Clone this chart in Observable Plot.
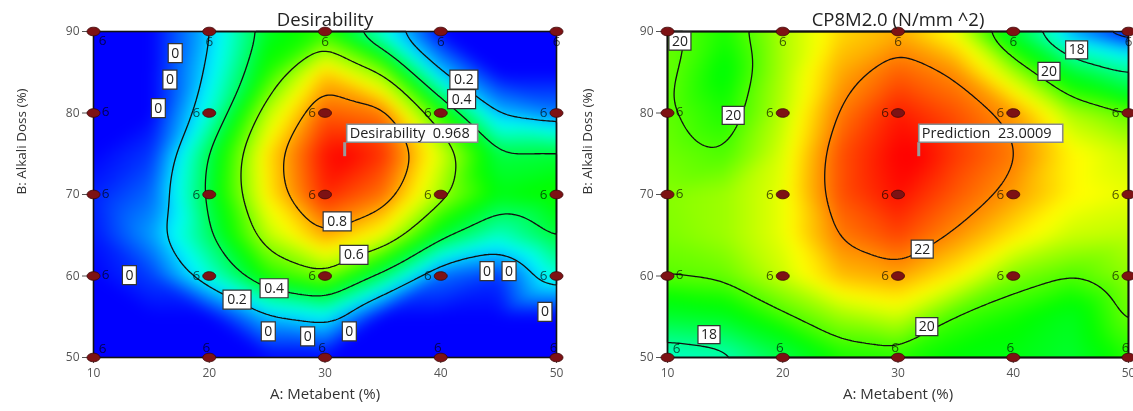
<!DOCTYPE html>
<html><head><meta charset="utf-8">
<script src="https://cdn.jsdelivr.net/npm/d3@7"></script>
<script src="https://cdn.jsdelivr.net/npm/@observablehq/plot@0.6"></script>
<style>
html,body{margin:0;padding:0;background:#fff;}
#wrap{display:flex;width:1133px;height:411px;overflow:hidden;}
#wrap svg{display:block;}
</style></head><body><div id="wrap"></div>
<script>
// ---- data ----
const gridX = [10, 15, 20, 25, 30, 35, 40, 45, 50];
const gridY = [90, 85, 80, 75, 70, 65, 60, 55, 50];

// Desirability surface (rows = gridY, cols = gridX)
const desirability = [
  [0.00, 0.00, 0.19, 0.45, 0.52, 0.26, 0.00, 0.00, 0.00],
  [0.00, 0.00, 0.22, 0.51, 0.77, 0.61, 0.19, 0.00, 0.00],
  [0.00, 0.00, 0.28, 0.66, 0.88, 0.85, 0.52, 0.18, 0.12],
  [0.00, 0.05, 0.41, 0.75, 0.95, 0.92, 0.69, 0.42, 0.43],
  [0.03, 0.10, 0.43, 0.74, 0.93, 0.86, 0.64, 0.47, 0.50],
  [0.02, 0.15, 0.39, 0.66, 0.81, 0.71, 0.44, 0.30, 0.43],
  [0.00, 0.06, 0.28, 0.51, 0.60, 0.38, 0.10, 0.05, 0.28],
  [0.00, 0.00, 0.00, 0.18, 0.24, 0.00, 0.00, 0.00, 0.00],
  [0.00, 0.00, 0.00, 0.00, 0.00, 0.00, 0.00, 0.00, 0.00]
];
// CP8M2.0 surface (N/mm^2)
const cp8m = [
  [20.15, 19.65, 20.60, 21.40, 21.70, 21.00, 18.90, 16.10, 15.20],
  [20.15, 19.40, 20.60, 21.75, 22.30, 21.95, 20.60, 19.00, 17.95],
  [20.10, 19.65, 20.70, 22.10, 22.80, 22.40, 21.85, 20.60, 20.10],
  [20.20, 19.98, 20.90, 22.40, 23.00, 22.60, 22.10, 21.20, 20.80],
  [20.35, 20.50, 21.00, 22.40, 22.90, 22.35, 21.85, 21.20, 21.00],
  [20.30, 20.50, 21.00, 22.10, 22.50, 21.95, 21.30, 20.80, 20.70],
  [20.05, 20.15, 20.80, 21.60, 21.80, 21.20, 20.30, 19.98, 20.40],
  [19.00, 19.20, 19.90, 20.50, 20.80, 19.90, 19.60, 19.20, 20.15],
  [17.30, 17.55, 18.70, 19.60, 19.70, 19.40, 19.30, 19.00, 19.70]
];

// optimum flags
const desOptimum = [31.7, 74.7, 0.968];
const desOptimumText = "Desirability \u00a00.968";
const cpOptimum = [31.8, 74.7, 23.0009];
const cpOptimumText = "Prediction \u00a023.0009";

// design points
const designX = [10, 20, 30, 40, 50];
const designY = [50, 60, 70, 80, 90];
const replicateLabel = "6";

// ticks
const xTicks = [10, 20, 30, 40, 50];
const yTicks = [50, 60, 70, 80, 90];

// contour levels
const desLevels = [0.2, 0.4, 0.6, 0.8];
const cpLevels = [16, 18, 20, 22];

// colour stops (fraction of the response range where cyan, green, yellow sit)
const desStops = [0, 0.25, 0.5, 0.75, 1];
const cpStops = [0, 0.2, 0.55, 0.76, 1];

// contour labels (data coordinates)
const desLabelX = [17.06, 16.6, 15.6, 13.1, 25.1, 28.5, 32.1, 44.0, 45.9, 49.0, 22.4, 42.0, 25.6, 41.8, 32.5, 31.05];
const desLabelY = [87.34, 84.1, 80.6, 60.1, 53.2, 52.6, 53.2, 60.6, 60.6, 55.6, 57.1, 84.1, 58.5, 81.7, 62.6, 66.7];
const desLabelText = ["0", "0", "0", "0", "0", "0", "0", "0", "0", "0", "0.2", "0.2", "0.4", "0.4", "0.6", "0.8"];
const cpLabelX = [11.08, 15.7, 13.6, 32.1, 32.5, 43.1, 45.5];
const cpLabelY = [88.83, 79.7, 52.8, 63.3, 53.8, 85.1, 87.75];
const cpLabelText = ["20", "20", "18", "22", "20", "20", "18"];

const rainbow = ["#0000ff", "#00ffff", "#00ff00", "#ffff00", "#ff0000"];
const FONT = '"Open Sans", "Segoe UI", sans-serif';

// ---- helpers ----
function toTable(grid, opt) {
  const t = [];
  gridY.forEach((y, i) => gridX.forEach((x, j) => t.push({x, y, v: grid[i][j]})));
  t.push({x: opt[0], y: opt[1], v: opt[2]});
  return t;
}
const design = [];
designY.forEach(y => designX.forEach(x => design.push({x, y, n: replicateLabel})));

const ellipseSym = {draw(ctx) {
  const rx = 6.5, ry = 4.3, k = 0.5523;
  ctx.moveTo(rx, 0);
  ctx.bezierCurveTo(rx, ry * k, rx * k, ry, 0, ry);
  ctx.bezierCurveTo(-rx * k, ry, -rx, ry * k, -rx, 0);
  ctx.bezierCurveTo(-rx, -ry * k, -rx * k, -ry, 0, -ry);
  ctx.bezierCurveTo(rx * k, -ry, rx, -ry * k, rx, 0);
  ctx.closePath();
}};
const boxSym = (w, h) => ({draw(ctx) { ctx.rect(-w / 2, -h / 2, w, h); }});
const stemSym = (len) => ({draw(ctx) { ctx.moveTo(0, 0); ctx.lineTo(0, -len); }});

function labelMarks(xs, ys, texts, boxes) {
  const idx = d3.range(texts.length);
  const marks = [];
  for (const [len, w, h] of boxes) {
    marks.push(Plot.dot(idx.filter(i => texts[i].length === len), {
      x: i => xs[i], y: i => ys[i], symbol: boxSym(w, h),
      fill: "white", stroke: "#333", strokeWidth: 1.2
    }));
  }
  marks.push(Plot.text(idx, {
    x: i => xs[i], y: i => ys[i], text: i => texts[i],
    fontSize: 14, fill: "#222", fontFamily: FONT
  }));
  return marks;
}

function sixes(filter, dx, dy) {
  return Plot.text(design, {
    filter, x: "x", y: "y", text: d => d.n, dx, dy,
    fontSize: 13.5, fill: "#5a5a5a", fontFamily: FONT,
    mixBlendMode: "multiply"
  });
}

function panel({grid, optimum, optimumText, levels, stops, labels, boxes, title, width, marginLeft, marginRight, boxW, boxDx, hideCorner}) {
  const table = toTable(grid, optimum);
  const ext = d3.extent(table, d => d.v);
  const dom = stops.map(s => ext[0] + (ext[1] - ext[0]) * s);
  const area = {x: "x", y: "y", interpolate: "barycentric", x1: 10, x2: 50, y1: 50, y2: 90, blur: 6};
  const opt = [{x: optimum[0], y: optimum[1], t: optimumText}];
  return Plot.plot({
    width, height: 411, marginTop: 31, marginBottom: 54, marginLeft, marginRight,
    style: {fontFamily: FONT, background: "white", overflow: "visible"},
    x: {domain: [10, 50]},
    y: {domain: [50, 90]},
    color: {type: "linear", domain: dom, range: rainbow, clamp: true},
    marks: [
      Plot.raster(table, {...area, fill: "v"}),
      Plot.contour(table, {...area, value: "v", thresholds: levels, fill: "none", stroke: "#111", strokeWidth: 1.3}),
      Plot.frame({stroke: "#111", strokeWidth: 1.6}),
      Plot.axisX({ticks: xTicks, tickSize: 6, tickPadding: 5, fontSize: 12, color: "#555", label: null}),
      Plot.axisY({ticks: yTicks, tickSize: 11, tickPadding: 3, fontSize: 12, color: "#555", label: null}),
      sixes(d => d.x > 10 && d.y > 50 && d.y < 90, -13, 0),
      sixes(d => d.x === 10 && d.y > 50 && d.y < 90, 12, -1),
      sixes(d => d.x === 10 && d.y === 90 && !hideCorner, 9, 9),
      sixes(d => d.x > 10 && d.y === 90, 0, 10),
      sixes(d => d.x === 10 && d.y === 50, 9, -9),
      sixes(d => d.x > 10 && d.y === 50, -3, -10),
      ...labelMarks(labels[0], labels[1], labels[2], boxes),
      Plot.dot(design, {x: "x", y: "y", symbol: ellipseSym, fill: "#7d1214", stroke: "#3a0606", strokeWidth: 0.8}),
      // optimum flag
      Plot.dot(opt, {x: "x", y: "y", symbol: stemSym(14), stroke: "#9a9a9a", strokeWidth: 3, fill: "none"}),
      Plot.dot(opt, {x: "x", y: "y", symbol: boxSym(boxW, 18), dx: boxDx + boxW / 2, dy: -23, fill: "white", stroke: "#8a8a8a", strokeWidth: 1.6}),
      Plot.text(opt, {x: "x", y: "y", text: "t", dx: boxDx + 3, dy: -23, textAnchor: "start", fontSize: 14.5, fill: "#222", fontFamily: FONT}),
      // titles
      Plot.text([title], {text: d => d, frameAnchor: "top", lineAnchor: "bottom", dy: -6, fontSize: 18.5, fill: "#222"}),
      Plot.text(["B: Alkali Doss (%)"], {text: d => d, frameAnchor: "left", dx: -(marginLeft - 21), rotate: -90, fontSize: 13.5, fill: "#333"}),
      Plot.text(["A: Metabent (%)"], {text: d => d, frameAnchor: "bottom", dy: 41, fontSize: 15, fill: "#333"})
    ]
  });
}

const wrap = document.getElementById("wrap");
wrap.append(panel({
  grid: desirability, optimum: desOptimum, optimumText: desOptimumText,
  levels: desLevels, stops: desStops, labels: [desLabelX, desLabelY, desLabelText],
  boxes: [[1, 14, 19], [3, 28, 19]],
  title: "Desirability", width: 566, marginLeft: 93, marginRight: 10,
  boxW: 131, boxDx: 2, hideCorner: false
}));
wrap.append(panel({
  grid: cp8m, optimum: cpOptimum, optimumText: cpOptimumText,
  levels: cpLevels, stops: cpStops, labels: [cpLabelX, cpLabelY, cpLabelText],
  boxes: [[2, 22, 18]],
  title: "CP8M2.0 (N/mm ^2)", width: 567, marginLeft: 101, marginRight: 5,
  boxW: 144, boxDx: 0, hideCorner: true
}));
</script></body></html>
